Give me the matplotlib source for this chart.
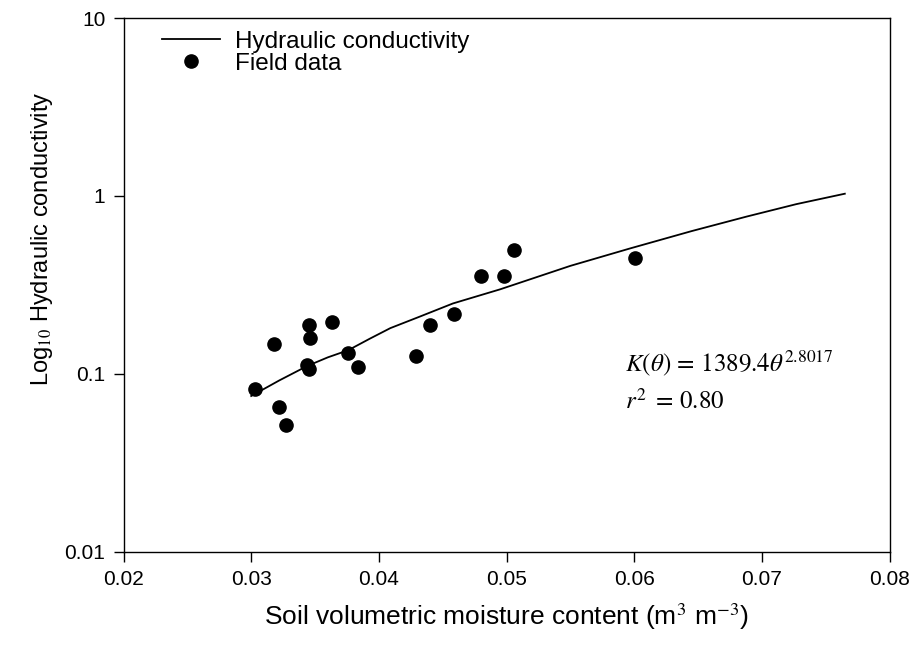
import matplotlib
matplotlib.use("Agg")
import matplotlib.pyplot as plt

plt.rcParams['font.family'] = ['Liberation Sans', 'DejaVu Sans']
plt.rcParams['mathtext.fontset'] = 'stix'

# field observations (theta, K)
field_theta = [0.0303, 0.0318, 0.0322, 0.0327, 0.0345, 0.0346, 0.0344, 0.0345,
               0.0363, 0.0376, 0.0384, 0.0429, 0.0440, 0.0459, 0.0480, 0.0498,
               0.0506, 0.0601]
field_k = [0.082, 0.148, 0.065, 0.0515, 0.188, 0.160, 0.112, 0.106,
           0.197, 0.131, 0.109, 0.127, 0.189, 0.216, 0.356, 0.356,
           0.498, 0.450]

# fitted hydraulic conductivity curve
curve_theta = [0.0300, 0.0322, 0.0344, 0.0360, 0.0376, 0.0393, 0.0409, 0.0432,
               0.0458, 0.0495, 0.0550, 0.0597, 0.0645, 0.0688, 0.0727, 0.0765]
curve_k = [0.0752, 0.092, 0.111, 0.124, 0.136, 0.158, 0.181, 0.210,
           0.249, 0.299, 0.405, 0.508, 0.635, 0.766, 0.900, 1.03]

fig = plt.figure(figsize=(9.11, 6.5), dpi=100)
ax = fig.add_axes([0.1356, 0.1508, 0.8408, 0.8215])

ax.plot(curve_theta, curve_k, color='black', lw=1.3, label='Hydraulic conductivity')
ax.plot(field_theta, field_k, 'o', color='black', ms=9.5, label='Field data')

ax.set_yscale('log')
ax.set_xlim(0.02, 0.08)
ax.set_ylim(0.01, 10)
ax.set_xticks([0.02, 0.03, 0.04, 0.05, 0.06, 0.07, 0.08])
ax.set_xticklabels(['0.02', '0.03', '0.04', '0.05', '0.06', '0.07', '0.08'])
ax.set_yticks([0.01, 0.1, 1, 10])
ax.set_yticklabels(['0.01', '0.1', '1', '10'])
ax.minorticks_off()
ax.tick_params(direction='out', length=7, width=1, labelsize=15, pad=6)
for s in ax.spines.values():
    s.set_linewidth(1)

ax.set_xlabel(r'Soil volumetric moisture content (m$^3$ m$^{-3}$)', fontsize=19,
              labelpad=9)
fig.text(0.046, 0.632, r'Log$_{10}$ Hydraulic conductivity', rotation=90,
         fontsize=17, ha='center', va='center')

ax.legend(loc='upper left', bbox_to_anchor=(0.05, 0.976), frameon=False,
          fontsize=17.5, handlelength=2.4, handletextpad=0.6, labelspacing=0.0,
          borderaxespad=0, borderpad=0)

ax.text(0.655, 0.354, r'$K(\theta)\, =\, 1389.4\theta^{2.8017}$', transform=ax.transAxes,
        fontsize=18, va='center')
ax.text(0.655, 0.281, r'$r^2\,\, =\, 0.80$', transform=ax.transAxes,
        fontsize=18, va='center')

fig.savefig('out.png', dpi=100)
